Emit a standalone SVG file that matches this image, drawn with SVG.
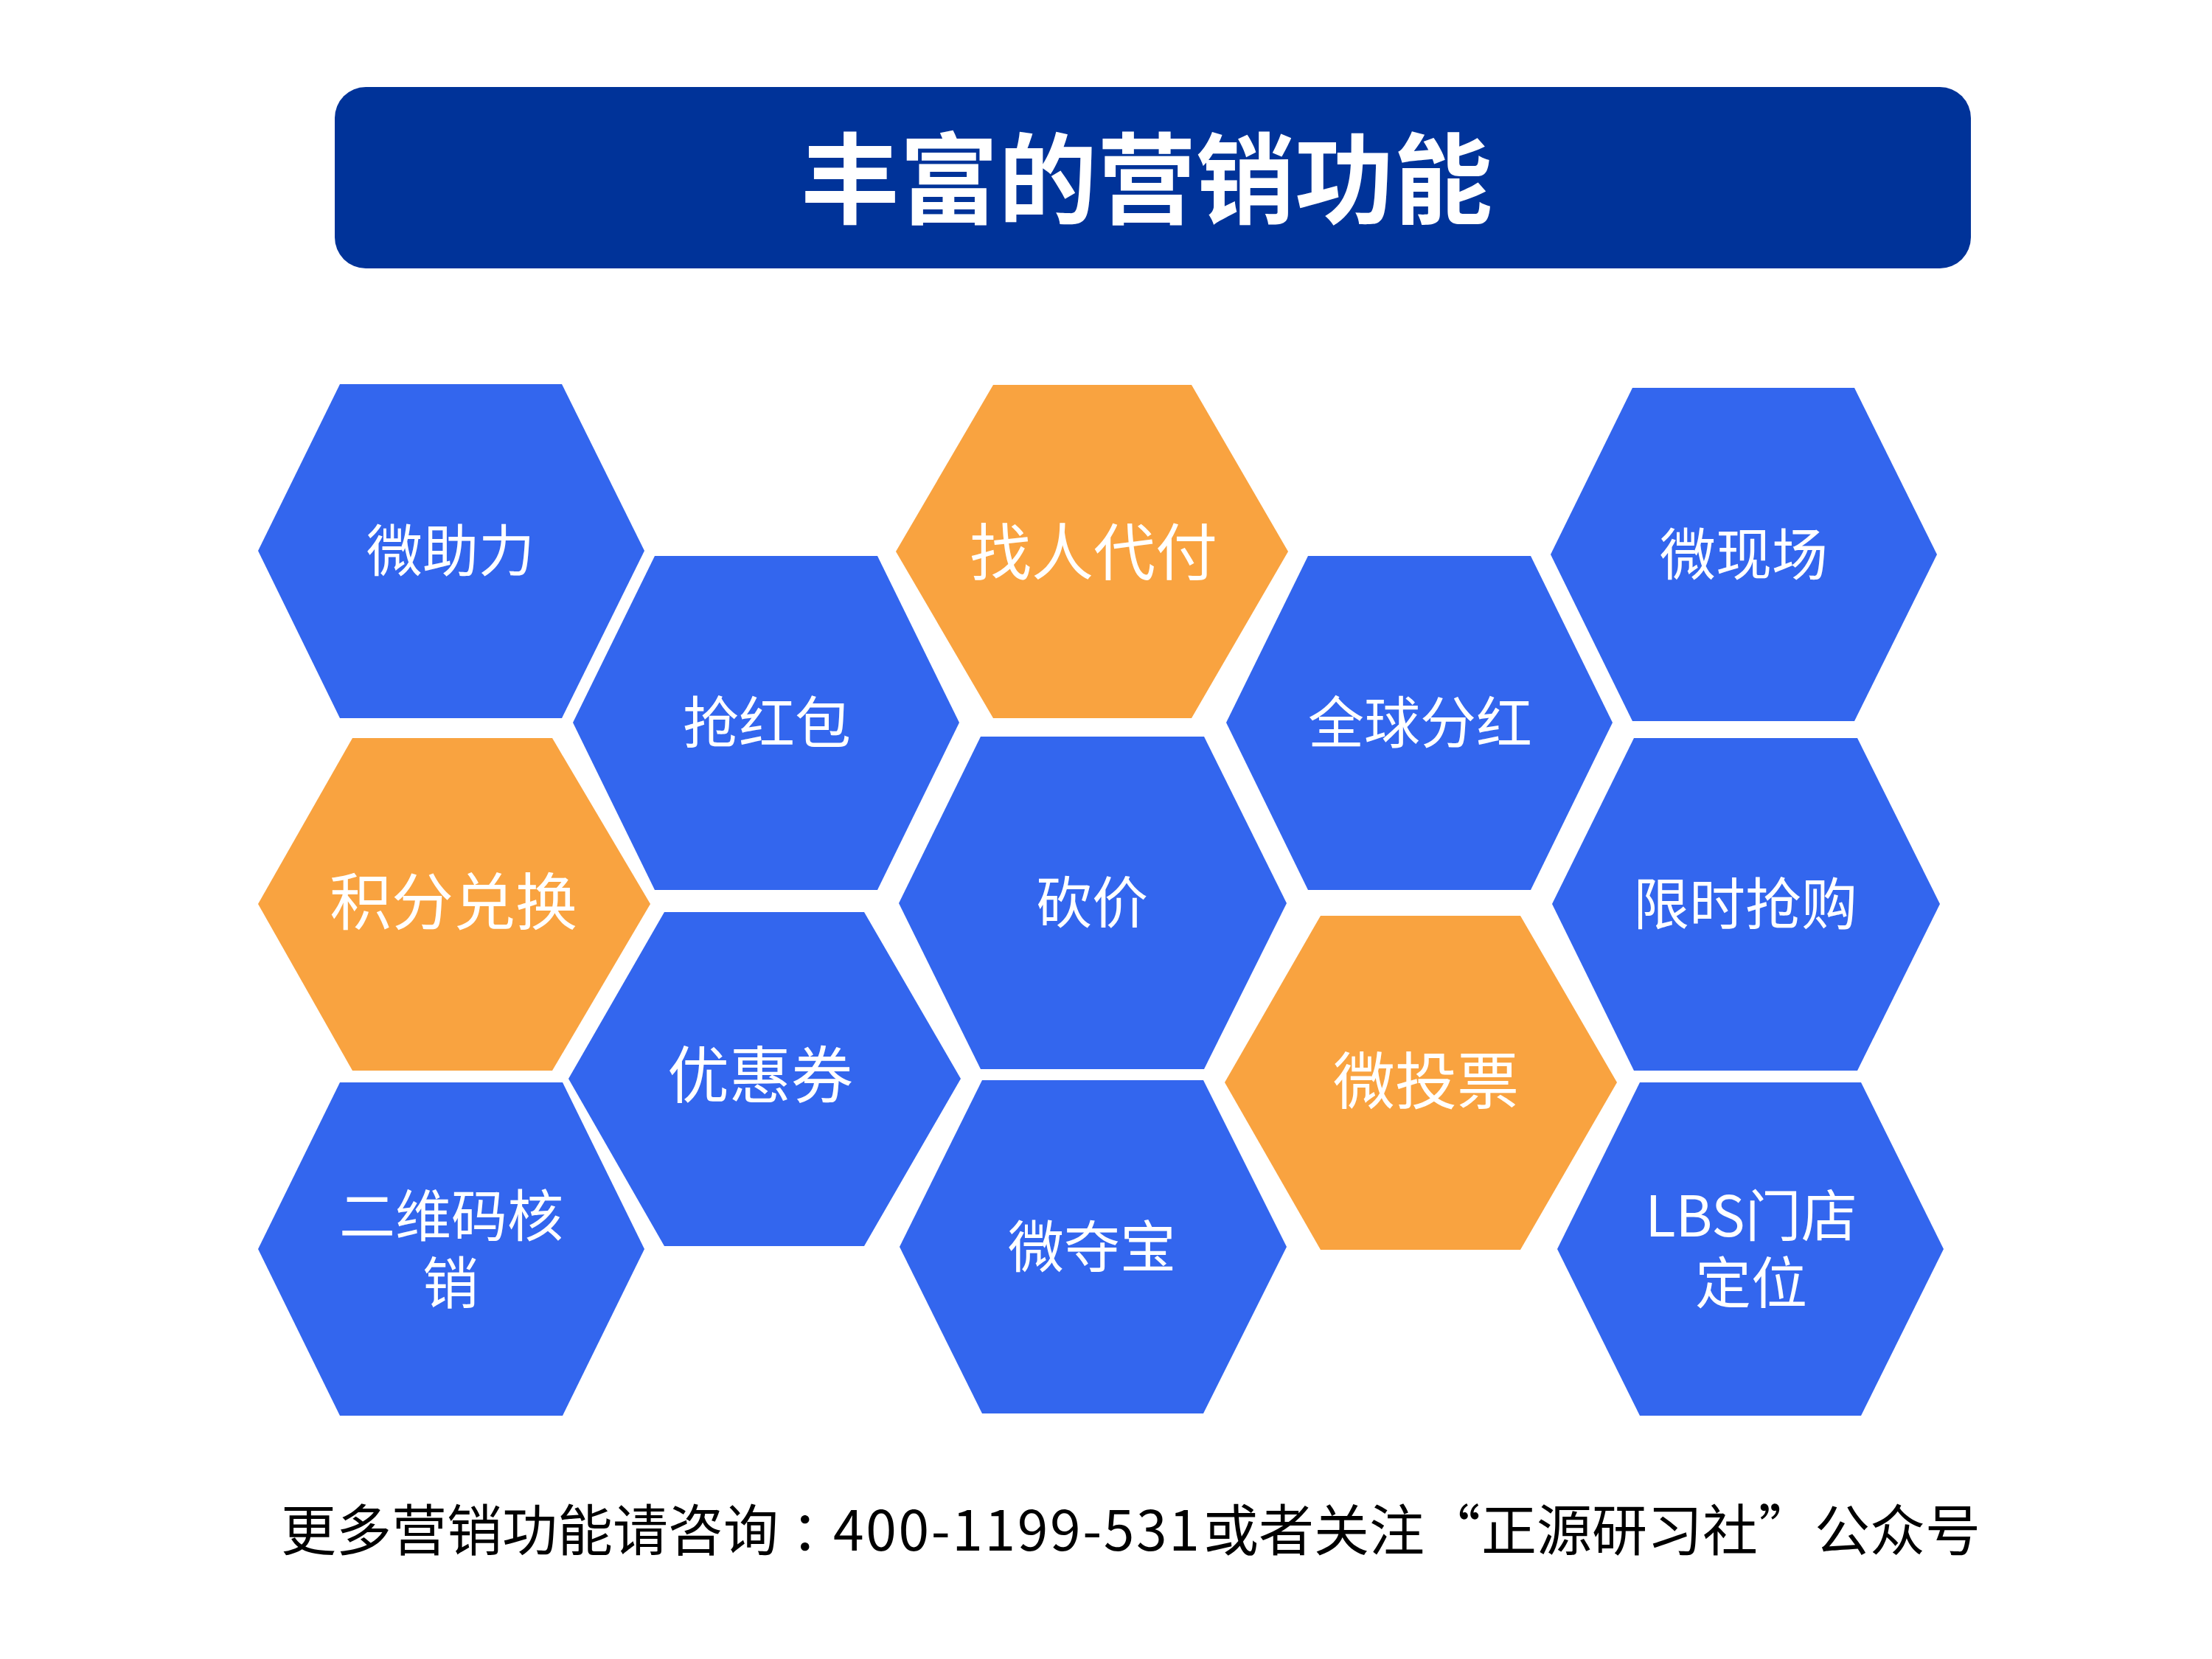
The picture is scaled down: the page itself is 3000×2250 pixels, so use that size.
<svg xmlns="http://www.w3.org/2000/svg" width="3000" height="2250" viewBox="0 0 3000 2250">
<style>
text{font-family:"Noto Sans CJK SC","Noto Sans",sans-serif;text-anchor:middle}
.b{fill:#3366ee}.o{fill:#f9a340}
.l{fill:#fff;font-size:76px}.m{fill:#fff;font-size:84px}
.f{fill:#000;font-size:75px;text-anchor:start}
</style>
<rect width="3000" height="2250" fill="#fff"/>
<g id="banner"><rect x="454" y="118" width="2219" height="246" rx="42" fill="#003399"/><text x="1555" y="293" fill="#fff" font-size="134" font-weight="700">丰富的营销功能</text></g>
<g id="connectors"/>
<g id="n1"><polygon class="b" points="350,747 461,521 762,521 874,747 762,974 461,974"/><text class="l" x="611" y="775">微助力</text></g>
<g id="n2"><polygon class="b" points="777,980 888,754 1190,754 1301,980 1190,1207 888,1207"/><text class="l" x="1040" y="1008">抢红包</text></g>
<g id="n3"><polygon class="o" points="1215,748 1347,522 1616,522 1747,748 1616,974 1347,974"/><text class="m" x="1483" y="780">找人代付</text></g>
<g id="n4"><polygon class="b" points="1663,980 1774,754 2076,754 2187,980 2076,1207 1774,1207"/><text class="l" x="1926" y="1008">全球分红</text></g>
<g id="n5"><polygon class="b" points="2103,752 2214,526 2515,526 2627,752 2515,978 2214,978"/><text class="l" x="2365" y="780">微现场</text></g>
<g id="n6"><polygon class="o" points="350,1226 478,1001 749,1001 882,1226 749,1452 478,1452"/><text class="m" x="615" y="1254">积分兑换</text></g>
<g id="n7"><polygon class="b" points="1219,1225 1330,999 1633,999 1745,1225 1633,1450 1330,1450"/><text class="l" x="1481" y="1252">砍价</text></g>
<g id="n8"><polygon class="b" points="2105,1226 2216,1001 2519,1001 2631,1226 2519,1452 2216,1452"/><text class="l" x="2367" y="1254">限时抢购</text></g>
<g id="n9"><polygon class="b" points="771,1463 901,1237 1172,1237 1303,1463 1172,1690 901,1690"/><text class="m" x="1031" y="1489">优惠券</text></g>
<g id="n10"><polygon class="o" points="1661,1468 1791,1242 2062,1242 2193,1468 2062,1695 1791,1695"/><text class="m" x="1934" y="1497">微投票</text></g>
<g id="n11"><polygon class="b" points="350,1694 461,1468 763,1468 874,1694 763,1920 461,1920"/><text class="l"><tspan x="612" y="1677">二维码核</tspan><tspan x="611" y="1768">销</tspan></text></g>
<g id="n12"><polygon class="b" points="1220,1691 1332,1465 1632,1465 1745,1691 1632,1917 1332,1917"/><text class="l" x="1481" y="1719">微夺宝</text></g>
<g id="n13"><polygon class="b" points="2112,1694 2224,1468 2524,1468 2636,1694 2524,1920 2224,1920"/><text class="l"><tspan x="2375" y="1677">LBS门店</tspan><tspan x="2375" y="1768">定位</tspan></text></g>
<g id="note"><text class="f" y="2103"><tspan x="381">更多营销功能请咨询</tspan><tspan x="1073">：</tspan><tspan x="1130" letter-spacing="2.6">400-1199-531</tspan><tspan x="1632">或者关注</tspan><tspan x="1933">“</tspan><tspan x="2009">正源研习社</tspan><tspan x="2385">”</tspan><tspan x="2461">公众号</tspan></text></g>
</svg>
